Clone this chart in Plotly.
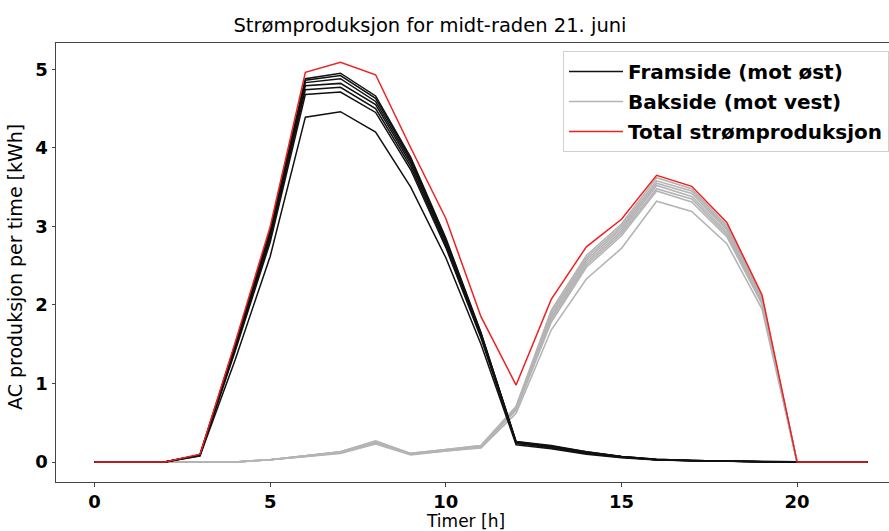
import plotly.graph_objects as go

hours = list(range(23))

# Framside (mot øst) - front side lines, kWh per hour
front_1 = [0, 0, 0, 0.09, 1.50, 2.95, 4.88, 4.95, 4.66, 3.88, 2.85, 1.65, 0.26, 0.21, 0.13, 0.07, 0.035, 0.02, 0.01, 0.005, 0, 0, 0]
front_2 = [0, 0, 0, 0.09, 1.49, 2.93, 4.86, 4.92, 4.63, 3.86, 2.83, 1.64, 0.26, 0.20, 0.13, 0.07, 0.035, 0.02, 0.01, 0.005, 0, 0, 0]
front_3 = [0, 0, 0, 0.09, 1.47, 2.90, 4.83, 4.88, 4.59, 3.83, 2.81, 1.63, 0.25, 0.20, 0.12, 0.07, 0.03, 0.02, 0.01, 0.005, 0, 0, 0]
front_4 = [0, 0, 0, 0.09, 1.45, 2.87, 4.79, 4.82, 4.55, 3.80, 2.79, 1.62, 0.25, 0.19, 0.12, 0.065, 0.03, 0.02, 0.01, 0.005, 0, 0, 0]
front_5 = [0, 0, 0, 0.09, 1.43, 2.84, 4.74, 4.77, 4.50, 3.76, 2.76, 1.60, 0.24, 0.19, 0.12, 0.065, 0.03, 0.015, 0.01, 0.004, 0, 0, 0]
front_6 = [0, 0, 0, 0.08, 1.41, 2.80, 4.68, 4.71, 4.45, 3.72, 2.73, 1.58, 0.24, 0.18, 0.11, 0.06, 0.03, 0.015, 0.01, 0.004, 0, 0, 0]
front_7 = [0, 0, 0, 0.08, 1.30, 2.62, 4.39, 4.46, 4.20, 3.50, 2.60, 1.50, 0.22, 0.17, 0.10, 0.055, 0.025, 0.015, 0.008, 0.003, 0, 0, 0]

# Bakside (mot vest) - back side lines
back_1 = [0, 0, 0, 0, 0, 0.03, 0.08, 0.13, 0.27, 0.11, 0.16, 0.21, 0.71, 1.93, 2.63, 3.03, 3.62, 3.48, 3.01, 2.10, 0, 0, 0]
back_2 = [0, 0, 0, 0, 0, 0.03, 0.08, 0.13, 0.26, 0.11, 0.16, 0.21, 0.70, 1.90, 2.60, 3.00, 3.58, 3.45, 2.98, 2.08, 0, 0, 0]
back_3 = [0, 0, 0, 0, 0, 0.03, 0.08, 0.13, 0.26, 0.10, 0.15, 0.20, 0.69, 1.87, 2.57, 2.97, 3.55, 3.42, 2.96, 2.07, 0, 0, 0]
back_4 = [0, 0, 0, 0, 0, 0.03, 0.08, 0.12, 0.25, 0.10, 0.15, 0.20, 0.68, 1.84, 2.54, 2.94, 3.52, 3.38, 2.93, 2.05, 0, 0, 0]
back_5 = [0, 0, 0, 0, 0, 0.03, 0.07, 0.12, 0.25, 0.10, 0.15, 0.20, 0.67, 1.81, 2.51, 2.91, 3.48, 3.35, 2.90, 2.03, 0, 0, 0]
back_6 = [0, 0, 0, 0, 0, 0.03, 0.07, 0.12, 0.24, 0.10, 0.14, 0.19, 0.66, 1.78, 2.48, 2.88, 3.45, 3.31, 2.87, 2.01, 0, 0, 0]
back_7 = [0, 0, 0, 0, 0, 0.03, 0.07, 0.11, 0.23, 0.09, 0.14, 0.18, 0.62, 1.68, 2.33, 2.72, 3.32, 3.19, 2.78, 1.95, 0, 0, 0]

# Total strømproduksjon
total = [0, 0, 0, 0.10, 1.52, 3.00, 4.96, 5.09, 4.93, 4.00, 3.10, 1.85, 0.98, 2.07, 2.74, 3.09, 3.65, 3.51, 3.05, 2.13, 0, 0, 0]

front_lines = [front_1, front_2, front_3, front_4, front_5, front_6, front_7]
back_lines = [back_1, back_2, back_3, back_4, back_5, back_6, back_7]

FONT = "DejaVu Sans"
fig = go.Figure()

for i, ys in enumerate(back_lines):
    fig.add_trace(go.Scatter(x=hours, y=ys, mode="lines",
                             line=dict(color="#b4b4b4", width=1.6),
                             name="Bakside (mot vest)", legendgroup="b",
                             legendrank=2, showlegend=(i == 0)))
for i, ys in enumerate(front_lines):
    fig.add_trace(go.Scatter(x=hours, y=ys, mode="lines",
                             line=dict(color="#111111", width=1.5),
                             name="Framside (mot øst)", legendgroup="f",
                             legendrank=1, showlegend=(i == 0)))
fig.add_trace(go.Scatter(x=hours, y=total, mode="lines",
                         line=dict(color="#f02020", width=1.5),
                         name="Total strømproduksjon", legendgroup="t",
                         legendrank=3))

fig.update_layout(
    width=889, height=531,
    margin=dict(l=56, r=0, t=43, b=49, autoexpand=False),
    paper_bgcolor="white", plot_bgcolor="white",
    font=dict(family=FONT, color="black"),
    title=dict(text="Strømproduksjon for midt-raden 21. juni",
               font=dict(family=FONT, size=19.5, color="black"),
               x=430 / 889, xref="container", xanchor="center",
               y=1 - 25 / 531, yref="container", yanchor="middle"),
    showlegend=True,
    legend=dict(x=(563 - 56) / 833, y=(482 - 51) / 439, xanchor="left", yanchor="top",
                bgcolor="rgba(255,255,255,0.9)", bordercolor="#d0d0d0", borderwidth=1,
                font=dict(family=FONT, size=20, color="black", weight="bold"),
                itemwidth=54, tracegroupgap=1, traceorder="grouped"),
    xaxis=dict(range=[-1.1, (889 - 94) / 35.15], showgrid=False, zeroline=False,
               showline=True, linecolor="#444", linewidth=1, mirror=True,
               ticks="outside", ticklen=3.5, tickcolor="#444",
               tickvals=[0, 5, 10, 15, 20],
               tickfont=dict(family=FONT, size=18, color="black", weight="bold")),
    yaxis=dict(range=[-0.254, 5.334], showgrid=False, zeroline=False,
               showline=True, linecolor="#444", linewidth=1,
               ticks="outside", ticklen=3.5, tickcolor="#444",
               tickvals=[0, 1, 2, 3, 4, 5],
               tickfont=dict(family=FONT, size=18, color="black", weight="bold")),
    annotations=[
        dict(text="Timer [h]", xref="paper", yref="paper",
             x=(465 - 56) / 833, y=-(520.5 - 482) / 439, xanchor="center", yanchor="middle",
             showarrow=False, font=dict(family=FONT, size=17, color="black")),
        dict(text="AC produksjon per time [kWh]", xref="paper", yref="paper",
             x=-(56 - 15) / 833, y=(482 - 267) / 439, xanchor="center", yanchor="middle",
             textangle=-90, showarrow=False, font=dict(family=FONT, size=19, color="black")),
    ],
)

fig.write_html("out.html")
